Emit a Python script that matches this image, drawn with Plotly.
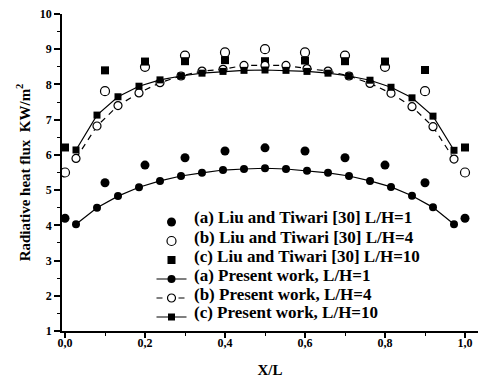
import plotly.graph_objects as go

# Liu and Tiwari [30] data
x_liu = [0.0, 0.1, 0.2, 0.3, 0.4, 0.5, 0.6, 0.7, 0.8, 0.9, 1.0]
liu_a = [4.20, 5.21, 5.71, 5.92, 6.11, 6.20, 6.11, 5.92, 5.71, 5.21, 4.20]
liu_b = [5.50, 7.81, 8.50, 8.82, 8.91, 9.00, 8.91, 8.82, 8.50, 7.81, 5.50]
liu_c = [6.21, 8.40, 8.65, 8.66, 8.69, 8.66, 8.68, 8.66, 8.65, 8.41, 6.21]

# Present work data
x_pw = [0.0275, 0.08, 0.1325, 0.185, 0.2375, 0.29, 0.3425, 0.395, 0.4475, 0.5,
        0.5525, 0.605, 0.6575, 0.71, 0.7625, 0.815, 0.8675, 0.92, 0.9725]
pw_a = [4.03, 4.50, 4.83, 5.08, 5.26, 5.40, 5.49, 5.57, 5.60, 5.62,
        5.60, 5.55, 5.49, 5.40, 5.26, 5.09, 4.84, 4.51, 4.03]
pw_b = [5.90, 6.82, 7.40, 7.76, 8.05, 8.24, 8.38, 8.43, 8.54, 8.54,
        8.54, 8.45, 8.38, 8.24, 8.03, 7.75, 7.37, 6.80, 5.88]
pw_c = [6.14, 7.13, 7.65, 7.95, 8.13, 8.24, 8.32, 8.37, 8.40, 8.41,
        8.40, 8.37, 8.32, 8.24, 8.12, 7.92, 7.62, 7.10, 6.13]

x_ticks = [0.0, 0.2, 0.4, 0.6, 0.8, 1.0]
x_ticktext = ["0,0", "0,2", "0,4", "0,6", "0,8", "1,0"]
y_ticks = [1, 2, 3, 4, 5, 6, 7, 8, 9, 10]
y_ticktext = [str(v) for v in y_ticks]

names = ["(a) Liu and Tiwari [30] L/H=1", "(b) Liu and Tiwari [30] L/H=4",
         "(c) Liu and Tiwari [30] L/H=10", "(a) Present work, L/H=1",
         "(b) Present work, L/H=4", "(c) Present work, L/H=10"]

FONT = "Liberation Serif, Times New Roman, serif"
B = lambda s: "<b>" + s + "</b>"
fig = go.Figure()

# legend symbols come from the plotly legend; their labels are drawn as annotations
fig.add_trace(go.Scatter(x=x_liu, y=liu_a, mode="markers", name=" ",
                         marker=dict(symbol="circle", size=9, color="black")))
fig.add_trace(go.Scatter(x=x_liu, y=liu_b, mode="markers", name=" ",
                         marker=dict(symbol="circle-open", size=9, color="black", line=dict(width=1.2))))
fig.add_trace(go.Scatter(x=x_liu, y=liu_c, mode="markers", name=" ",
                         marker=dict(symbol="square", size=8, color="black")))
fig.add_trace(go.Scatter(x=x_pw, y=pw_a, mode="lines+markers", name=" ",
                         line=dict(color="black", width=1.2),
                         marker=dict(symbol="circle", size=8, color="black")))
fig.add_trace(go.Scatter(x=x_pw, y=pw_b, mode="lines+markers", name=" ",
                         line=dict(color="black", width=1.2, dash="6px,5px"),
                         marker=dict(symbol="circle", size=8, color="white", line=dict(color="black", width=1.2))))
fig.add_trace(go.Scatter(x=x_pw, y=pw_c, mode="lines+markers", name=" ",
                         line=dict(color="black", width=1.2),
                         marker=dict(symbol="square", size=7, color="black")))

row_px = [217.7, 237.0, 256.0, 275.0, 294.0, 312.5]
annotations = []
for nm, py in zip(names, row_px):
    annotations.append(dict(text=B(nm), xref="paper", yref="paper",
                            x=(191.5 - 62) / 416, y=(331 - py) / 317,
                            xanchor="left", yanchor="middle", showarrow=False,
                            font=dict(size=17, family=FONT, color="black")))

fig.update_layout(
    width=478, height=379,
    margin=dict(l=62, r=0, t=14, b=48),
    paper_bgcolor="white", plot_bgcolor="white",
    font=dict(family=FONT, size=12, color="black"),
    showlegend=True,
    annotations=annotations,
    legend=dict(x=(151.5 - 62) / 416, y=(331 - 207.5) / 317, xanchor="left", yanchor="top",
                bgcolor="rgba(0,0,0,0)", font=dict(size=11, family=FONT),
                tracegroupgap=0, itemwidth=30),
    xaxis=dict(range=[-0.0075, 1.0325], tickvals=x_ticks, ticktext=[B(t) for t in x_ticktext],
               showgrid=False, zeroline=False, showline=True, linecolor="black", linewidth=1.5,
               ticks="outside", ticklen=5, tickwidth=1.5, tickcolor="black", ticklabelstandoff=-5,
               minor=dict(dtick=0.1, tick0=0, ticks="outside", ticklen=3, tickwidth=1.2, tickcolor="black"),
               title=dict(text=B("X/L"), font=dict(size=15, family=FONT), standoff=15),
               tickfont=dict(size=12, family=FONT)),
    yaxis=dict(range=[1, 10], tickvals=y_ticks, ticktext=[B(t) for t in y_ticktext],
               showgrid=False, zeroline=False, showline=True, linecolor="black", linewidth=1.5,
               ticks="outside", ticklen=6, tickwidth=1.5, tickcolor="black",
               minor=dict(dtick=0.5, tick0=0, ticks="outside", ticklen=3, tickwidth=1.2, tickcolor="black"),
               title=dict(text=B("Radiative heat flux  KW/m<sup>2</sup>"), font=dict(size=15, family=FONT), standoff=6),
               tickfont=dict(size=12, family=FONT)),
)

fig.write_html("out.html", config={"displayModeBar": False},
               post_script="document.body.style.margin='0px';")
